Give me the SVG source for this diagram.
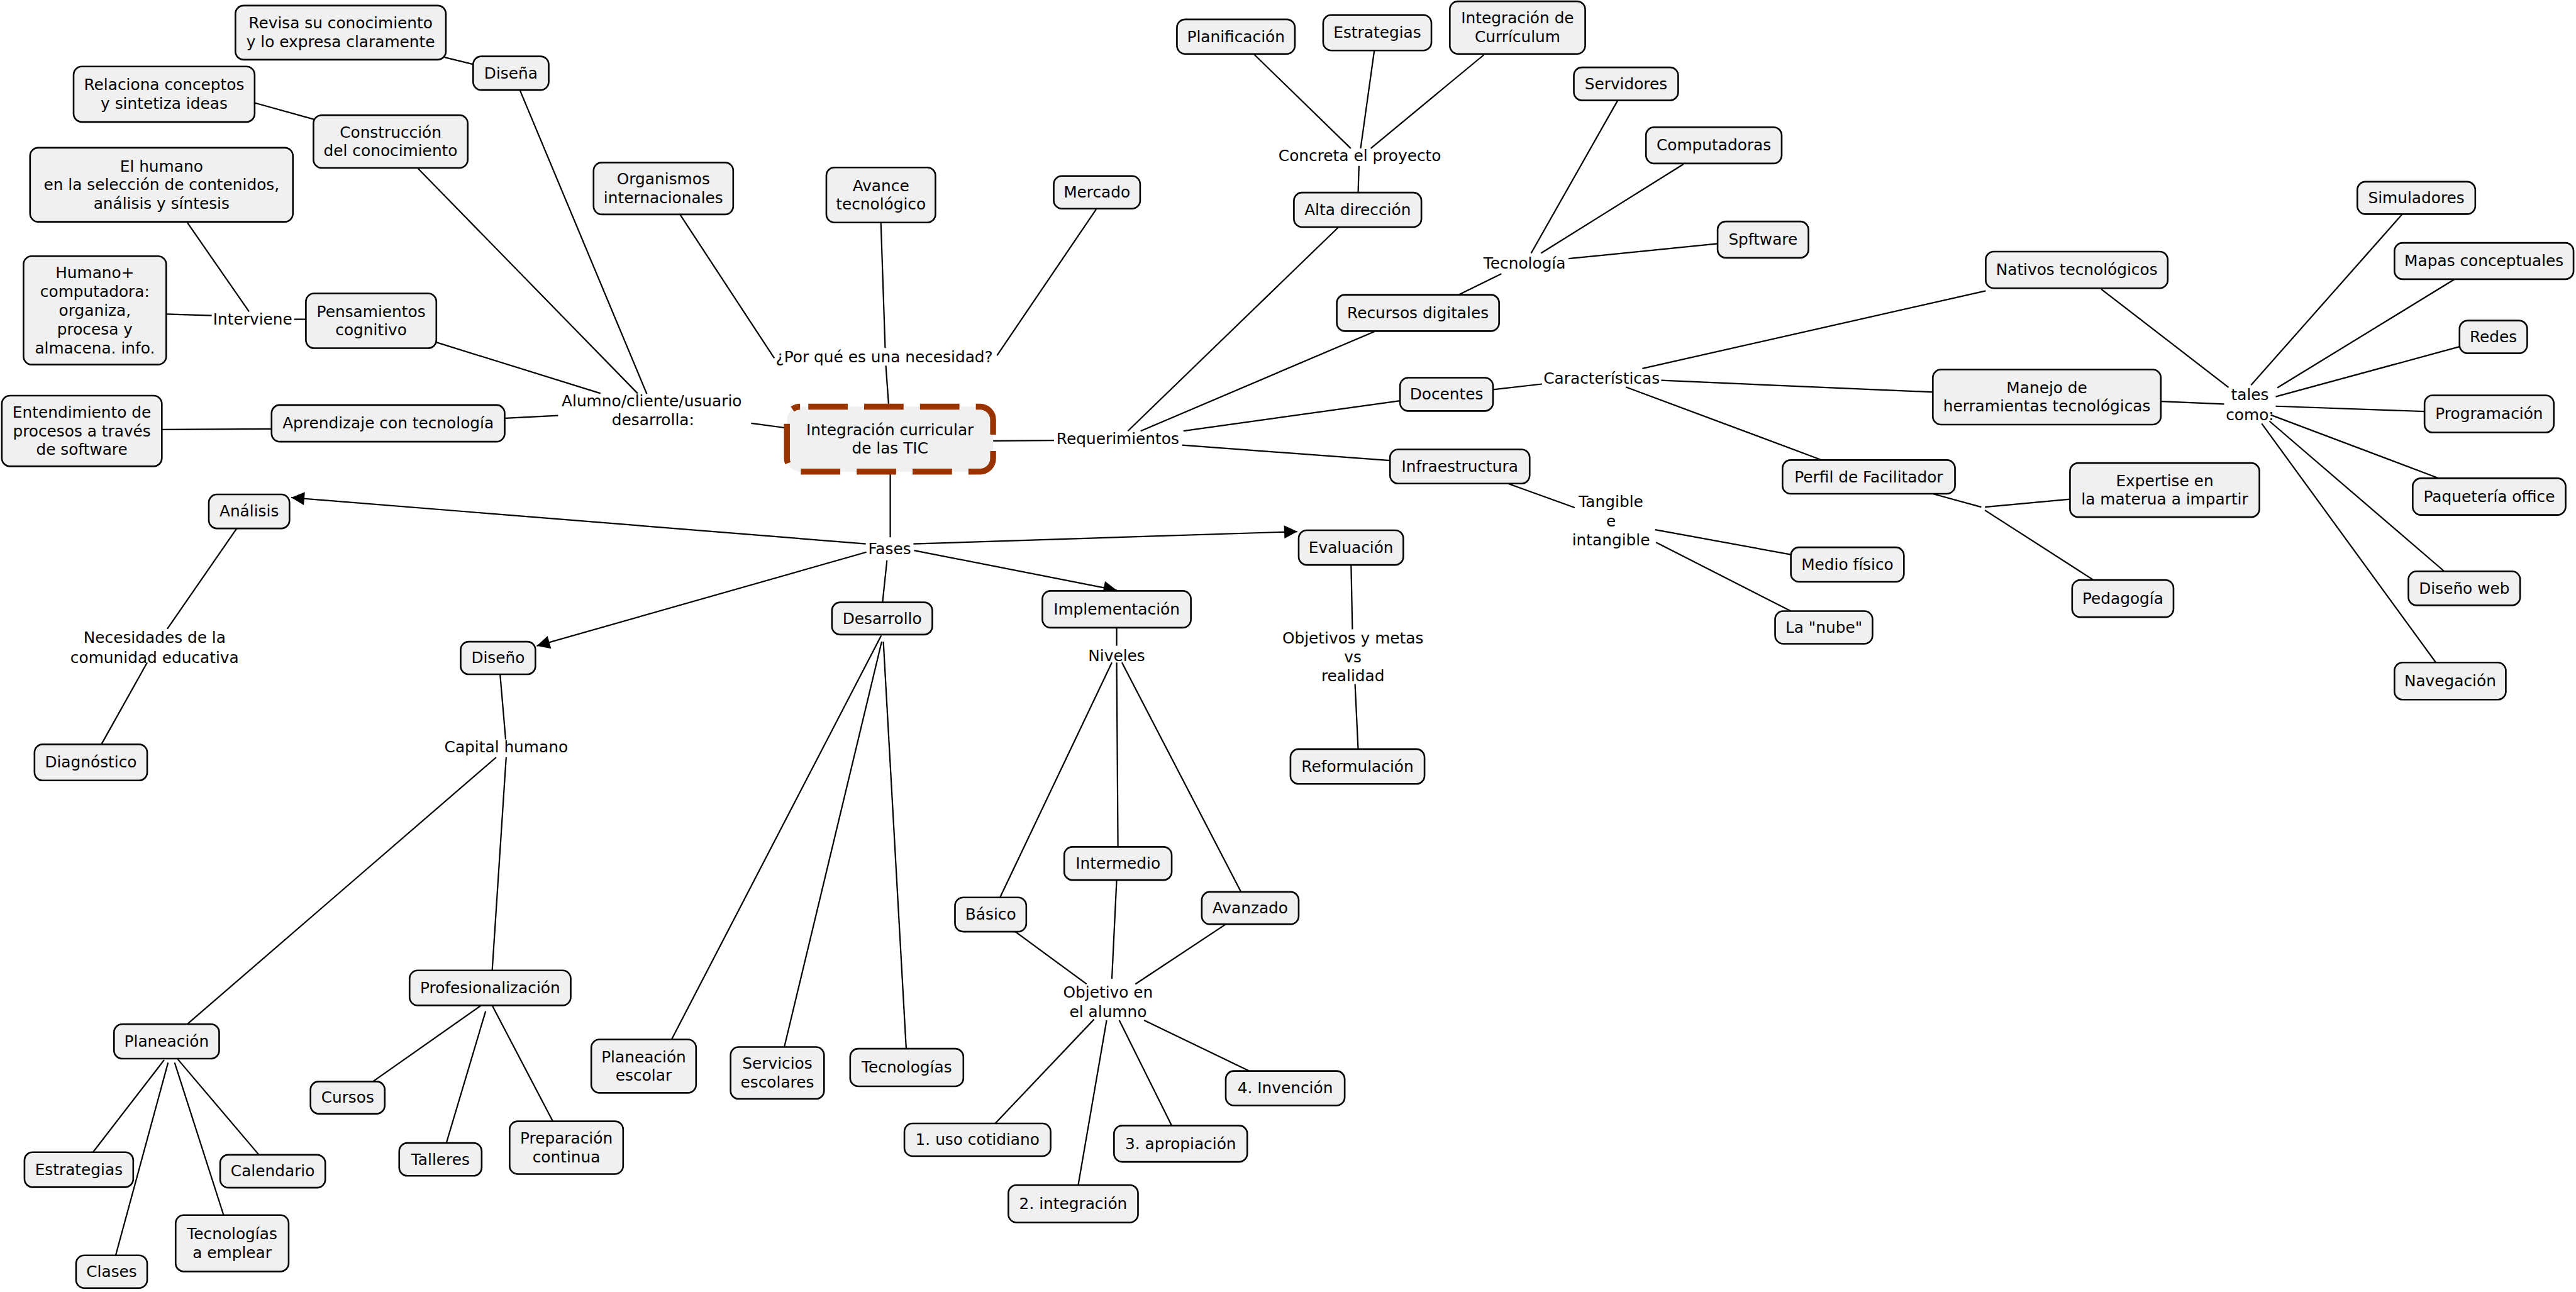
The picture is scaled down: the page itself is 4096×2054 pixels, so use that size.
<svg xmlns="http://www.w3.org/2000/svg" width="4096" height="2054" viewBox="0 0 4096 2054">
<defs>
<style>
.n rect{fill:#f0f0f0;stroke:#000;stroke-width:1}
text{font-family:"DejaVu Sans",Verdana,sans-serif;font-size:9.5px;fill:#000;text-anchor:middle}
.c path{fill:none;stroke:#000;stroke-width:0.85}
.c path.a{marker-end:url(#arr)}
</style>
<marker id="arr" viewBox="0 0 10 10" refX="10" refY="5" markerWidth="9" markerHeight="8" markerUnits="userSpaceOnUse" orient="auto"><path d="M0,0L10,5L0,10z" fill="#000"/></marker>
</defs>
<rect width="4096" height="2054" fill="#fff"/>
<g transform="scale(2.61224)">
<g id="connectors" class="c">
<path d="M270.6 34.9L288.2 39.2"/>
<path d="M316.6 55.2L393.7 239.7"/>
<path d="M155.3 62.7L191.3 72.7"/>
<path d="M254.5 102.6L388.1 239.4"/>
<path d="M114.1 135.6L151.6 189.6"/>
<path d="M101.6 191.2L128.9 192"/>
<path d="M179 194.3L186.2 194.3"/>
<path d="M265.5 208.3L365.5 239.4"/>
<path d="M98.5 261.4L165.3 261"/>
<path d="M307.6 254.5L339.7 252.9"/>
<path d="M457.2 257.6L479 260.5"/>
<path d="M414.1 130.8L471.3 218"/>
<path d="M536.2 135.5L538.8 211.8"/>
<path d="M667.2 127.4L606.9 216.3"/>
<path d="M539.2 222.5L541 247.5"/>
<path d="M604.5 268.3L641.6 268"/>
<path d="M763.4 33.1L822.2 90.3"/>
<path d="M836.5 31L828.2 90.3"/>
<path d="M903.2 33.4L834.4 90.3"/>
<path d="M827.2 101L826.7 117.2"/>
<path d="M814.5 138.5L686.5 262.3"/>
<path d="M984.6 61.3L932 154.1"/>
<path d="M1024.7 99.9L938 154.1"/>
<path d="M1045.5 148.3L954.8 157.4"/>
<path d="M913.9 166.6L887.8 179.4"/>
<path d="M836.5 201.8L694.3 262.3"/>
<path d="M852.2 243.9L720.4 262.3"/>
<path d="M846.1 280.3L719.6 270.9"/>
<path d="M908.8 237.1L938.6 233.7"/>
<path d="M999.7 224.3L1208.7 177"/>
<path d="M1011.2 231.5L1176.5 238.6"/>
<path d="M989.6 235.5L1109 280"/>
<path d="M918.4 294.5L958.5 308.9"/>
<path d="M1007.5 322.4L1090.6 337.6"/>
<path d="M1008 330.1L1090.1 371.9"/>
<path d="M1176.8 300.6L1206 308.6"/>
<path d="M1208.2 308.6L1260 303.8"/>
<path d="M1208.2 310.5L1274.3 353"/>
<path d="M1279.1 176L1356.5 235.8"/>
<path d="M1315.3 244.3L1353.8 245.9"/>
<path d="M1462.3 130.3L1370.2 234.4"/>
<path d="M1494.2 169.9L1386.2 236"/>
<path d="M1497.1 211L1385.2 241.4"/>
<path d="M1475.8 250.4L1385.2 247.2"/>
<path d="M1484.6 291.1L1382.2 252.5"/>
<path d="M1487.8 347.7L1381.4 256.3"/>
<path d="M1482.7 403.2L1376.7 257.8"/>
<path d="M541.9 287L541.9 327"/>
<path class="a" d="M527 331L177.3 302.8"/>
<path class="a" d="M527.4 336L326.7 393.1"/>
<path class="a" d="M556 331L789.7 323.5"/>
<path class="a" d="M556.4 335L679.7 359.2"/>
<path d="M539.9 341L537.2 366.6"/>
<path d="M144.1 321.6L101.8 382.8"/>
<path d="M89.6 403.2L61.7 453"/>
<path d="M304.4 410.4L307.8 450"/>
<path d="M302 460.9L114 623.3"/>
<path d="M308.1 460.9L299.6 590.6"/>
<path d="M99.9 645.1L56.6 701.2"/>
<path d="M102.3 646.7L70.4 764"/>
<path d="M106.3 646.7L136.1 739.5"/>
<path d="M108.2 644.6L157.6 702.8"/>
<path d="M292.9 611.9L227 658.2"/>
<path d="M295.6 615.4L271.7 695.6"/>
<path d="M299.6 611.9L336.5 682.4"/>
<path d="M822.4 343.8L823.2 383"/>
<path d="M824.8 416.3L826.7 455.9"/>
<path d="M536.4 386.8L408.8 632.6"/>
<path d="M536.7 390.5L477.4 637.2"/>
<path d="M537.7 390.5L551.6 638.2"/>
<path d="M679.7 382L679.7 393"/>
<path d="M676.8 403.2L608.7 546.2"/>
<path d="M679.7 403.2L680.5 515.4"/>
<path d="M682.9 403.2L755.4 542.8"/>
<path d="M618 567L661.4 598.9"/>
<path d="M679.7 535.6L676.8 595.7"/>
<path d="M746.1 562.5L691.1 598.9"/>
<path d="M665.9 620.4L605.8 683.7"/>
<path d="M673.6 620.9L656.3 721.2"/>
<path d="M681.3 620.9L713.2 685"/>
<path d="M696.4 620.9L760.5 651.8"/>
</g>
<g id="nodes">
<g id="central"><rect x="479" y="247.5" width="125.5" height="39.5" rx="8" fill="#f0f0f0" stroke="#993300" stroke-width="3.6" stroke-dasharray="24 10" stroke-dashoffset="29"/><text x="541.75" y="265"><tspan x="541.75">Integración curricular</tspan><tspan x="541.75" dy="11">de las TIC</tspan></text></g>
<g id="n1" class="n"><rect x="143.3" y="3.4" width="128.1" height="32.9" rx="5"/><text x="207.35" y="17.4"><tspan x="207.35">Revisa su conocimiento</tspan><tspan x="207.35" dy="11.3">y lo expresa claramente</tspan></text></g>
<g id="n2" class="n"><rect x="288" y="34.3" width="46" height="20.5" rx="5"/><text x="311" y="47.75">Diseña</text></g>
<g id="n3" class="n"><rect x="44.8" y="40.5" width="110.2" height="33.7" rx="5"/><text x="99.9" y="54.9"><tspan x="99.9">Relaciona conceptos</tspan><tspan x="99.9" dy="11.3">y sintetiza ideas</tspan></text></g>
<g id="n4" class="n"><rect x="190.8" y="70.1" width="93.9" height="32.1" rx="5"/><text x="237.75" y="83.7"><tspan x="237.75">Construcción</tspan><tspan x="237.75" dy="11.3">del conocimiento</tspan></text></g>
<g id="n5" class="n"><rect x="18.3" y="89.9" width="160" height="45.1" rx="5"/><text x="98.3" y="104.35"><tspan x="98.3">El humano</tspan><tspan x="98.3" dy="11.3">en la selección de contenidos,</tspan><tspan x="98.3" dy="11.3">análisis y síntesis</tspan></text></g>
<g id="n6" class="n"><rect x="14.3" y="155.9" width="86.9" height="66" rx="5"/><text x="57.75" y="169.1"><tspan x="57.75">Humano+</tspan><tspan x="57.75" dy="11.5">computadora:</tspan><tspan x="57.75" dy="11.5">organiza,</tspan><tspan x="57.75" dy="11.5">procesa y</tspan><tspan x="57.75" dy="11.5">almacena. info.</tspan></text></g>
<g id="n7" class="n"><rect x="186.2" y="178.6" width="79.4" height="33.3" rx="5"/><text x="225.9" y="192.8"><tspan x="225.9">Pensamientos</tspan><tspan x="225.9" dy="11.3">cognitivo</tspan></text></g>
<g id="n8" class="n"><rect x="1.1" y="240.8" width="97.4" height="43" rx="5"/><text x="49.8" y="254.2"><tspan x="49.8">Entendimiento de</tspan><tspan x="49.8" dy="11.3">procesos a través</tspan><tspan x="49.8" dy="11.3">de software</tspan></text></g>
<g id="n9" class="n"><rect x="165.3" y="246.5" width="141.9" height="22.3" rx="5"/><text x="236.25" y="260.85">Aprendizaje con tecnología</text></g>
<g id="n10" class="n"><rect x="361.3" y="98.9" width="85" height="31.6" rx="5"/><text x="403.8" y="112.25"><tspan x="403.8">Organismos</tspan><tspan x="403.8" dy="11.3">internacionales</tspan></text></g>
<g id="n11" class="n"><rect x="503" y="101.9" width="66.4" height="33.5" rx="5"/><text x="536.2" y="116.2"><tspan x="536.2">Avance</tspan><tspan x="536.2" dy="11.3">tecnológico</tspan></text></g>
<g id="n12" class="n"><rect x="641.4" y="107.1" width="52.6" height="19.9" rx="5"/><text x="667.7" y="120.25">Mercado</text></g>
<g id="n13" class="n"><rect x="716.4" y="11.8" width="71.8" height="21" rx="5"/><text x="752.3" y="25.5">Planificación</text></g>
<g id="n14" class="n"><rect x="805.4" y="9.1" width="65.9" height="21.6" rx="5"/><text x="838.35" y="23.1">Estrategias</text></g>
<g id="n15" class="n"><rect x="882.5" y="0.8" width="82.4" height="32" rx="5"/><text x="923.7" y="14.35"><tspan x="923.7">Integración de</tspan><tspan x="923.7" dy="11.3">Currículum</tspan></text></g>
<g id="n16" class="n"><rect x="787.6" y="117.2" width="77.6" height="21" rx="5"/><text x="826.4" y="130.9">Alta dirección</text></g>
<g id="n17" class="n"><rect x="958" y="41" width="63.5" height="20.1" rx="5"/><text x="989.75" y="54.25">Servidores</text></g>
<g id="n18" class="n"><rect x="1001.9" y="77.4" width="82.6" height="22.1" rx="5"/><text x="1043.2" y="91.65">Computadoras</text></g>
<g id="n19" class="n"><rect x="1045.5" y="134.8" width="55.3" height="22.1" rx="5"/><text x="1073.15" y="149.05">Spftware</text></g>
<g id="n20" class="n"><rect x="813.7" y="179.4" width="98.8" height="22.1" rx="5"/><text x="863.1" y="193.65">Recursos digitales</text></g>
<g id="n21" class="n"><rect x="852.2" y="229.9" width="56.6" height="20.2" rx="5"/><text x="880.5" y="243.2">Docentes</text></g>
<g id="n22" class="n"><rect x="846.1" y="273.5" width="85" height="20.8" rx="5"/><text x="888.6" y="287.1">Infraestructura</text></g>
<g id="n23" class="n"><rect x="1208.7" y="153.1" width="110.8" height="22.3" rx="5"/><text x="1264.1" y="167.45">Nativos tecnológicos</text></g>
<g id="n24" class="n"><rect x="1176.5" y="224.9" width="138.8" height="33.5" rx="5"/><text x="1245.9" y="239.2"><tspan x="1245.9">Manejo de</tspan><tspan x="1245.9" dy="11.3">herramientas tecnológicas</tspan></text></g>
<g id="n25" class="n"><rect x="1085" y="280" width="105" height="20.5" rx="5"/><text x="1137.5" y="293.45">Perfil de Facilitador</text></g>
<g id="n26" class="n"><rect x="1260" y="281.8" width="115.3" height="32.9" rx="5"/><text x="1317.65" y="295.8"><tspan x="1317.65">Expertise en</tspan><tspan x="1317.65" dy="11.3">la materua a impartir</tspan></text></g>
<g id="n27" class="n"><rect x="1261.3" y="353" width="61.7" height="22.6" rx="5"/><text x="1292.15" y="367.5">Pedagogía</text></g>
<g id="n28" class="n"><rect x="1090.1" y="333.1" width="68.8" height="21" rx="5"/><text x="1124.5" y="346.8">Medio físico</text></g>
<g id="n29" class="n"><rect x="1080.5" y="371.9" width="59.3" height="19.9" rx="5"/><text x="1110.15" y="385.05">La "nube"</text></g>
<g id="n30" class="n"><rect x="1434.9" y="110.6" width="71.8" height="19.7" rx="5"/><text x="1470.8" y="123.65">Simuladores</text></g>
<g id="n31" class="n"><rect x="1457.5" y="147.8" width="109" height="22.1" rx="5"/><text x="1512" y="162.05">Mapas conceptuales</text></g>
<g id="n32" class="n"><rect x="1497.1" y="195.1" width="41.2" height="19.9" rx="5"/><text x="1517.7" y="208.25">Redes</text></g>
<g id="n33" class="n"><rect x="1475.8" y="240.6" width="78.7" height="22.6" rx="5"/><text x="1515.15" y="255.1">Programación</text></g>
<g id="n34" class="n"><rect x="1468.6" y="291.1" width="93.1" height="22.3" rx="5"/><text x="1515.15" y="305.45">Paquetería office</text></g>
<g id="n35" class="n"><rect x="1466" y="347.7" width="68" height="20.7" rx="5"/><text x="1500" y="361.25">Diseño web</text></g>
<g id="n36" class="n"><rect x="1457.5" y="403.2" width="67.8" height="22.6" rx="5"/><text x="1491.4" y="417.7">Navegación</text></g>
<g id="n37" class="n"><rect x="790.5" y="322.7" width="63.7" height="21.1" rx="5"/><text x="822.35" y="336.45">Evaluación</text></g>
<g id="n38" class="n"><rect x="785.5" y="455.9" width="81.6" height="21.2" rx="5"/><text x="826.3" y="469.7">Reformulación</text></g>
<g id="n39" class="n"><rect x="127.1" y="300.9" width="49.1" height="20.7" rx="5"/><text x="151.65" y="314.45">Análisis</text></g>
<g id="n40" class="n"><rect x="21" y="453" width="68.6" height="22" rx="5"/><text x="55.3" y="467.2">Diagnóstico</text></g>
<g id="n41" class="n"><rect x="280.4" y="390.5" width="45.5" height="19.9" rx="5"/><text x="303.15" y="403.65">Diseño</text></g>
<g id="n42" class="n"><rect x="249.3" y="590.6" width="98.1" height="21.3" rx="5"/><text x="298.35" y="604.45">Profesionalización</text></g>
<g id="n43" class="n"><rect x="69.4" y="623.3" width="64" height="21" rx="5"/><text x="101.4" y="637">Planeación</text></g>
<g id="n44" class="n"><rect x="14.9" y="701.2" width="66.2" height="21.3" rx="5"/><text x="48" y="715.05">Estrategias</text></g>
<g id="n45" class="n"><rect x="134" y="702.8" width="64" height="20" rx="5"/><text x="166" y="716">Calendario</text></g>
<g id="n46" class="n"><rect x="46.3" y="764" width="43.3" height="19.9" rx="5"/><text x="67.95" y="777.15">Clases</text></g>
<g id="n47" class="n"><rect x="106.9" y="739.5" width="68.8" height="34.3" rx="5"/><text x="141.3" y="754.2"><tspan x="141.3">Tecnologías</tspan><tspan x="141.3" dy="11.3">a emplear</tspan></text></g>
<g id="n48" class="n"><rect x="189" y="658.2" width="45.2" height="19.6" rx="5"/><text x="211.6" y="671.2">Cursos</text></g>
<g id="n49" class="n"><rect x="243" y="695.6" width="50.2" height="20" rx="5"/><text x="268.1" y="708.8">Talleres</text></g>
<g id="n50" class="n"><rect x="310.2" y="682.4" width="69.1" height="32.1" rx="5"/><text x="344.75" y="696"><tspan x="344.75">Preparación</tspan><tspan x="344.75" dy="11.3">continua</tspan></text></g>
<g id="n51" class="n"><rect x="506.4" y="366.6" width="61.1" height="19.6" rx="5"/><text x="536.95" y="379.6">Desarrollo</text></g>
<g id="n52" class="n"><rect x="634.5" y="359.6" width="90.4" height="22.4" rx="5"/><text x="679.7" y="374">Implementación</text></g>
<g id="n53" class="n"><rect x="647.8" y="515.4" width="65.4" height="20.2" rx="5"/><text x="680.5" y="528.7">Intermedio</text></g>
<g id="n54" class="n"><rect x="581.3" y="546.2" width="43.4" height="20.8" rx="5"/><text x="603" y="559.8">Básico</text></g>
<g id="n55" class="n"><rect x="731.5" y="542.8" width="59" height="19.7" rx="5"/><text x="761" y="555.85">Avanzado</text></g>
<g id="n56" class="n"><rect x="746.1" y="651.8" width="72.4" height="21" rx="5"/><text x="782.3" y="665.5">4. Invención</text></g>
<g id="n57" class="n"><rect x="550.5" y="683.7" width="89" height="19.9" rx="5"/><text x="595" y="696.85">1. uso cotidiano</text></g>
<g id="n58" class="n"><rect x="678.1" y="685" width="81.1" height="22.1" rx="5"/><text x="718.65" y="699.25">3. apropiación</text></g>
<g id="n59" class="n"><rect x="613.8" y="721.2" width="78.9" height="22.8" rx="5"/><text x="653.25" y="735.8">2. integración</text></g>
<g id="n60" class="n"><rect x="359.9" y="632.6" width="63.8" height="32.5" rx="5"/><text x="391.8" y="646.4"><tspan x="391.8">Planeación</tspan><tspan x="391.8" dy="11.3">escolar</tspan></text></g>
<g id="n61" class="n"><rect x="444.7" y="637.2" width="56.9" height="31.6" rx="5"/><text x="473.15" y="650.55"><tspan x="473.15">Servicios</tspan><tspan x="473.15" dy="11.3">escolares</tspan></text></g>
<g id="n62" class="n"><rect x="517.5" y="638.2" width="68.9" height="22.9" rx="5"/><text x="551.95" y="652.85">Tecnologías</text></g>
</g>
<g id="labels">
<g id="l-interviene"><text x="153.8" y="197.5">Interviene</text></g>
<g id="l-alumno"><text x="396.7" y="247.2"><tspan x="396.7">Alumno/cliente/usuario</tspan><tspan x="397.5" dy="11.4">desarrolla:</tspan></text></g>
<g id="l-porque"><text x="538.3" y="220.6">¿Por qué es una necesidad?</text></g>
<g id="l-concreta"><text x="827.7" y="98.1">Concreta el proyecto</text></g>
<g id="l-tecnologia"><text x="928" y="163.4">Tecnología</text></g>
<g id="l-requerimientos"><text x="680.4" y="270.2">Requerimientos</text></g>
<g id="l-caracteristicas"><text x="974.9" y="233.5">Características</text></g>
<g id="l-tales"><text x="1369.5" y="243.5"><tspan x="1369.5">tales</tspan><tspan x="1369.5" dy="12.2">como:</tspan></text></g>
<g id="l-tangible"><text x="980.6" y="308.6"><tspan x="980.6">Tangible</tspan><tspan x="980.6" dy="11.7">e</tspan><tspan x="980.6" dy="11.7">intangible</tspan></text></g>
<g id="l-fases"><text x="541.5" y="337.2">Fases</text></g>
<g id="l-objetivos"><text x="823.5" y="391.8"><tspan x="823.5">Objetivos y metas</tspan><tspan x="823.5" dy="11.3">vs</tspan><tspan x="823.5" dy="11.3">realidad</tspan></text></g>
<g id="l-necesidades"><text x="94.1" y="391.3"><tspan x="94.1">Necesidades de la</tspan><tspan x="94.1" dy="12">comunidad educativa</tspan></text></g>
<g id="l-capital"><text x="308.1" y="457.7">Capital humano</text></g>
<g id="l-niveles"><text x="679.7" y="402.2">Niveles</text></g>
<g id="l-objetivo"><text x="674.5" y="607.1"><tspan x="674.5">Objetivo en</tspan><tspan x="674.5" dy="12">el alumno</tspan></text></g>
</g>
</g>
</svg>
